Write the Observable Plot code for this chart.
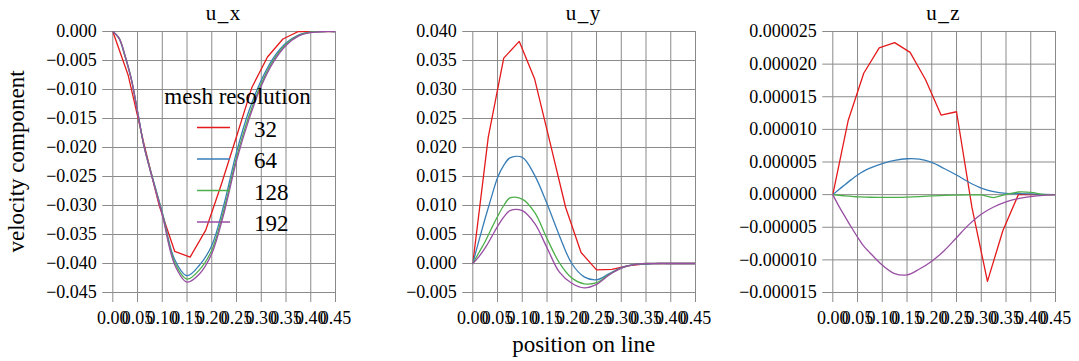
<!DOCTYPE html>
<html>
<head>
<meta charset="utf-8">
<script src="https://cdn.jsdelivr.net/npm/d3@7"></script>
<script src="https://cdn.jsdelivr.net/npm/@observablehq/plot@0.6"></script>
<style>
  html, body { margin: 0; padding: 0; background: white; }
  #wrap { position: relative; width: 1079px; height: 361px; overflow: hidden; background: white; font-family: "Liberation Serif", "Times New Roman", Times, "DejaVu Serif", serif; }
  #wrap text { font-family: "Liberation Serif", "Times New Roman", Times, "DejaVu Serif", serif !important; }
  .panel { position: absolute; top: 0; }
  #overlay { position: absolute; left: 0; top: 0; pointer-events: none; }
</style>
</head>
<body>
<div id="wrap"></div>
<script>
// ---------- data ----------
const resolutions = ["32", "64", "128", "192"];
const colors = ["#e41a1c", "#377eb8", "#4daf4a", "#984ea3"];
const panelTitles = ["u_x", "u_y", "u_z"];

// sample positions
const xCoarse = [0, 0.03125, 0.0625, 0.09375, 0.125, 0.15625, 0.1875, 0.21875, 0.25, 0.28125, 0.3125, 0.34375, 0.375, 0.40625, 0.4375, 0.45];
const xFine = [0, 0.0125, 0.025, 0.0375, 0.05, 0.0625, 0.075, 0.1, 0.125, 0.15, 0.175, 0.2, 0.225, 0.25, 0.275, 0.3, 0.325, 0.35, 0.375, 0.4, 0.425, 0.45];

// u_x
const ux32  = [0, -0.0076, -0.0192, -0.0300, -0.0379, -0.0389, -0.0343, -0.0265, -0.0181, -0.0096, -0.0044, -0.0013, 0, 0, 0, 0];
const ux64  = [0, -0.0012, -0.0044, -0.0083, -0.0138, -0.0195, -0.0236, -0.0312, -0.0393, -0.0421, -0.0403, -0.0369, -0.0297, -0.0208, -0.0137, -0.0084, -0.0045, -0.0020, -0.0006, -0.0001, 0, 0];
const ux128 = [0, -0.0011, -0.0043, -0.0082, -0.0138, -0.0196, -0.0237, -0.0314, -0.0398, -0.0427, -0.0411, -0.0377, -0.0306, -0.0217, -0.0146, -0.0090, -0.0049, -0.0022, -0.0007, -0.0001, 0, 0];
const ux192 = [0, -0.0011, -0.0042, -0.0082, -0.0138, -0.0196, -0.0238, -0.0316, -0.0402, -0.0432, -0.0418, -0.0383, -0.0312, -0.0223, -0.0152, -0.0094, -0.0052, -0.0024, -0.0008, -0.0002, 0, 0];

// u_y
const uy32  = [0, 0.0218, 0.0354, 0.0383, 0.0318, 0.0208, 0.0097, 0.0019, -0.0011, -0.0010, -0.0004, -0.0001, 0, 0, 0, 0];
const uy64  = [0, 0.0040, 0.0078, 0.0114, 0.0148, 0.0169, 0.0182, 0.0183, 0.0152, 0.0103, 0.0048, 0.0000, -0.0023, -0.0028, -0.0018, -0.0007, -0.0002, -0.0001, 0, 0, 0, 0];
const uy128 = [0, 0.0019, 0.0038, 0.0060, 0.0081, 0.0100, 0.0113, 0.0111, 0.0088, 0.0043, 0.0001, -0.0025, -0.0035, -0.0033, -0.0019, -0.0008, -0.0002, 0, 0, 0, 0, 0];
const uy192 = [0, 0.0012, 0.0027, 0.0045, 0.0064, 0.0080, 0.0091, 0.0091, 0.0069, 0.0027, -0.0015, -0.0034, -0.0042, -0.0036, -0.0020, -0.0008, -0.0002, 0, 0, 0, 0, 0];

// u_z
const uz32  = [0, 1.14e-5, 1.86e-5, 2.25e-5, 2.33e-5, 2.18e-5, 1.76e-5, 1.22e-5, 1.27e-5, -0.2e-5, -1.33e-5, -0.55e-5, 0, 0, 0, 0];
const uz64  = [0, 0.8e-6, 1.55e-6, 2.3e-6, 3.0e-6, 3.6e-6, 4.05e-6, 4.75e-6, 5.25e-6, 5.5e-6, 5.45e-6, 4.95e-6, 4.0e-6, 3.0e-6, 1.9e-6, 1.0e-6, 0.45e-6, 0.2e-6, 0.15e-6, 0.1e-6, 0.02e-6, 0];
const uz128 = [0, -0.1e-6, -0.2e-6, -0.28e-6, -0.33e-6, -0.37e-6, -0.4e-6, -0.43e-6, -0.43e-6, -0.38e-6, -0.3e-6, -0.2e-6, -0.12e-6, -0.08e-6, -0.05e-6, -0.05e-6, -0.45e-6, 0.05e-6, 0.4e-6, 0.35e-6, 0.05e-6, 0];
const uz192 = [0, -1.8e-6, -3.4e-6, -5.0e-6, -6.5e-6, -7.9e-6, -8.9e-6, -10.8e-6, -12.1e-6, -12.3e-6, -11.4e-6, -10.2e-6, -8.6e-6, -6.6e-6, -4.6e-6, -3.0e-6, -1.9e-6, -1.1e-6, -0.6e-6, -0.3e-6, -0.1e-6, 0];

// ticks
const xTicks = [0, 0.05, 0.10, 0.15, 0.20, 0.25, 0.30, 0.35, 0.40, 0.45];
const uxTicks = [-0.045, -0.040, -0.035, -0.030, -0.025, -0.020, -0.015, -0.010, -0.005, 0.000];
const uyTicks = [-0.005, 0.000, 0.005, 0.010, 0.015, 0.020, 0.025, 0.030, 0.035, 0.040];
const uzTicks = [-0.000015, -0.000010, -0.000005, 0, 0.000005, 0.000010, 0.000015, 0.000020, 0.000025];

// ---------- build ----------
const FONT = "'Liberation Serif', 'Times New Roman', Times, 'DejaVu Serif', serif";
function rows(xs, ys, res) { return xs.map((x, i) => ({x, y: ys[i], res})); }

const panels = [
  {series: [ux32, ux64, ux128, ux192], ticks: uxTicks, fmt: d3.format(".3f")},
  {series: [uy32, uy64, uy128, uy192], ticks: uyTicks, fmt: d3.format(".3f")},
  {series: [uz32, uz64, uz128, uz192], ticks: uzTicks, fmt: d3.format(".6f")}
];

const wrap = document.getElementById("wrap");
const gridColor = "#8a8a8a";

panels.forEach((p, k) => {
  const coarse = rows(xCoarse, p.series[0], resolutions[0]);
  const fine = [1, 2, 3].flatMap(j => rows(xFine, p.series[j], resolutions[j]));
  const chart = Plot.plot({
    width: 360,
    height: 361,
    marginLeft: 112.3,
    marginRight: 25,
    marginTop: 31,
    marginBottom: 69,
    style: {fontFamily: FONT, fontSize: "18px", color: "black", background: "transparent"},
    x: {domain: [0, 0.45]},
    y: {domain: d3.extent(p.ticks)},
    color: {domain: resolutions, range: colors},
    marks: [
      Plot.gridY(p.ticks, {stroke: gridColor, strokeOpacity: 1, strokeWidth: 1}),
      Plot.gridX(xTicks, {stroke: gridColor, strokeOpacity: 1, strokeWidth: 1}),
      Plot.axisY(p.ticks, {tickSize: 10, tickPadding: 6, stroke: gridColor, strokeOpacity: 1, fill: "black", fontSize: 18, tickFormat: p.fmt, label: null}),
      Plot.axisX(xTicks, {tickSize: 10, tickPadding: 9, stroke: gridColor, strokeOpacity: 1, fill: "black", fontSize: 18, tickFormat: d3.format(".2f"), label: null}),
      Plot.line(coarse, {x: "x", y: "y", stroke: "res", strokeWidth: 1.3, curve: "linear", clip: true}),
      Plot.line(fine, {x: "x", y: "y", z: "res", stroke: "res", strokeWidth: 1.3, curve: "catmull-rom", clip: true})
    ]
  });
  chart.classList.add("panel");
  chart.style.left = (k * 360) + "px";
  chart.style.fontFamily = FONT;
  wrap.appendChild(chart);
});

// ---------- overlay texts & legend ----------
const ns = "http://www.w3.org/2000/svg";
const ov = document.createElementNS(ns, "svg");
ov.setAttribute("id", "overlay");
ov.setAttribute("width", 1079);
ov.setAttribute("height", 361);
ov.style.fontFamily = FONT;
function txt(s, x, y, size, anchor, extra) {
  const t = document.createElementNS(ns, "text");
  t.textContent = s;
  t.setAttribute("x", x);
  t.setAttribute("y", y);
  t.setAttribute("font-size", size);
  t.setAttribute("text-anchor", anchor || "start");
  t.setAttribute("fill", "black");
  t.style.fontFamily = FONT;
  if (extra) for (const k in extra) t.setAttribute(k, extra[k]);
  ov.appendChild(t);
  return t;
}
panelTitles.forEach((s, k) => txt(s, 223.7 + 360 * k, 20, 21, "middle", {"letter-spacing": "1.5"}));
txt("velocity component", 0, 0, 23, "middle", {transform: "translate(24,161.5) rotate(-90)"});
txt("position on line", 583.7, 352, 23, "middle");

// legend
txt("mesh resolution", 237.5, 104, 23, "middle");
resolutions.forEach((r, i) => {
  const y = 127.5 + i * 31.5;
  const l = document.createElementNS(ns, "line");
  l.setAttribute("x1", 197); l.setAttribute("x2", 230);
  l.setAttribute("y1", y); l.setAttribute("y2", y);
  l.setAttribute("stroke", colors[i]); l.setAttribute("stroke-width", 1.3);
  ov.appendChild(l);
  txt(r, 254, y + 9, 23, "start");
});
wrap.appendChild(ov);
</script>
</body>
</html>
